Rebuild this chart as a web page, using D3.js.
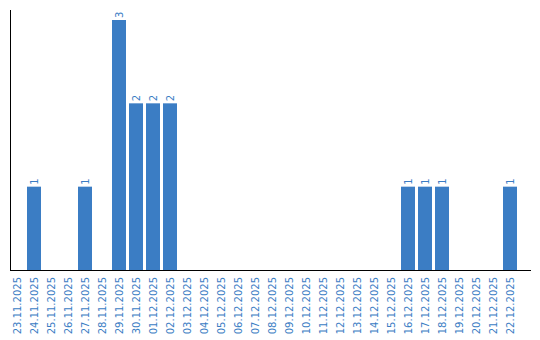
<!DOCTYPE html>
<meta charset="utf-8">
<script src="https://d3js.org/d3.v7.min.js"></script>
<style>
  body { margin: 0; background: #fff; }
  text { font-family: "DejaVu Sans", Verdana, sans-serif; font-size: 10px; fill: #3b7dc4; }
</style>
<body>
<div id="chart"></div>
<script>
  // dates shown on the x axis
  const days = ["23.11.2025", "24.11.2025", "25.11.2025", "26.11.2025", "27.11.2025",
    "28.11.2025", "29.11.2025", "30.11.2025", "01.12.2025", "02.12.2025",
    "03.12.2025", "04.12.2025", "05.12.2025", "06.12.2025", "07.12.2025",
    "08.12.2025", "09.12.2025", "10.12.2025", "11.12.2025", "12.12.2025",
    "13.12.2025", "14.12.2025", "15.12.2025", "16.12.2025", "17.12.2025",
    "18.12.2025", "19.12.2025", "20.12.2025", "21.12.2025", "22.12.2025"];
  // count per day
  const counts = [0, 1, 0, 0, 1, 0, 3, 2, 2, 2,
    0, 0, 0, 0, 0, 0, 0, 0, 0, 0,
    0, 0, 0, 1, 1, 1, 0, 0, 0, 1];

  const width = 540, height = 340;
  const plotLeft = 10, plotBottom = 270, plotTop = 20;

  const svg = d3.select("#chart").append("svg")
    .attr("width", width)
    .attr("height", height);

  const x = d3.scaleBand()
    .domain(days)
    .range([plotLeft, 517])
    .paddingInner(3 / 17)
    .paddingOuter(0);

  const y = d3.scaleLinear()
    .domain([0, 3])
    .range([plotBottom, plotTop]);

  const data = days.map((d, i) => ({ day: d, value: counts[i] }));

  // bars
  svg.selectAll("rect")
    .data(data.filter(d => d.value > 0))
    .join("rect")
    .attr("x", d => x(d.day))
    .attr("y", d => y(d.value))
    .attr("width", x.bandwidth())
    .attr("height", d => plotBottom - y(d.value))
    .attr("fill", "#3b7dc4");

  // value labels
  svg.selectAll("text.val")
    .data(data.filter(d => d.value > 0))
    .join("text")
    .attr("class", "val")
    .attr("transform", d => `translate(${x(d.day) + x.bandwidth() / 2}, ${y(d.value) - 2}) rotate(-90)`)
    .attr("dy", "0.35em")
    .text(d => d.value);

  // day labels
  svg.selectAll("text.day")
    .data(days)
    .join("text")
    .attr("class", "day")
    .attr("transform", d => `translate(${x(d) + x.bandwidth() / 2}, ${plotBottom + 7}) rotate(-90)`)
    .attr("text-anchor", "end")
    .attr("dy", "0.35em")
    .text(d => d);

  // axis lines
  svg.append("line")
    .attr("x1", plotLeft + 0.5).attr("x2", plotLeft + 0.5)
    .attr("y1", 10).attr("y2", plotBottom)
    .attr("stroke", "#000");
  svg.append("line")
    .attr("x1", plotLeft).attr("x2", 531)
    .attr("y1", plotBottom + 0.5).attr("y2", plotBottom + 0.5)
    .attr("stroke", "#000");
</script>
</body>
